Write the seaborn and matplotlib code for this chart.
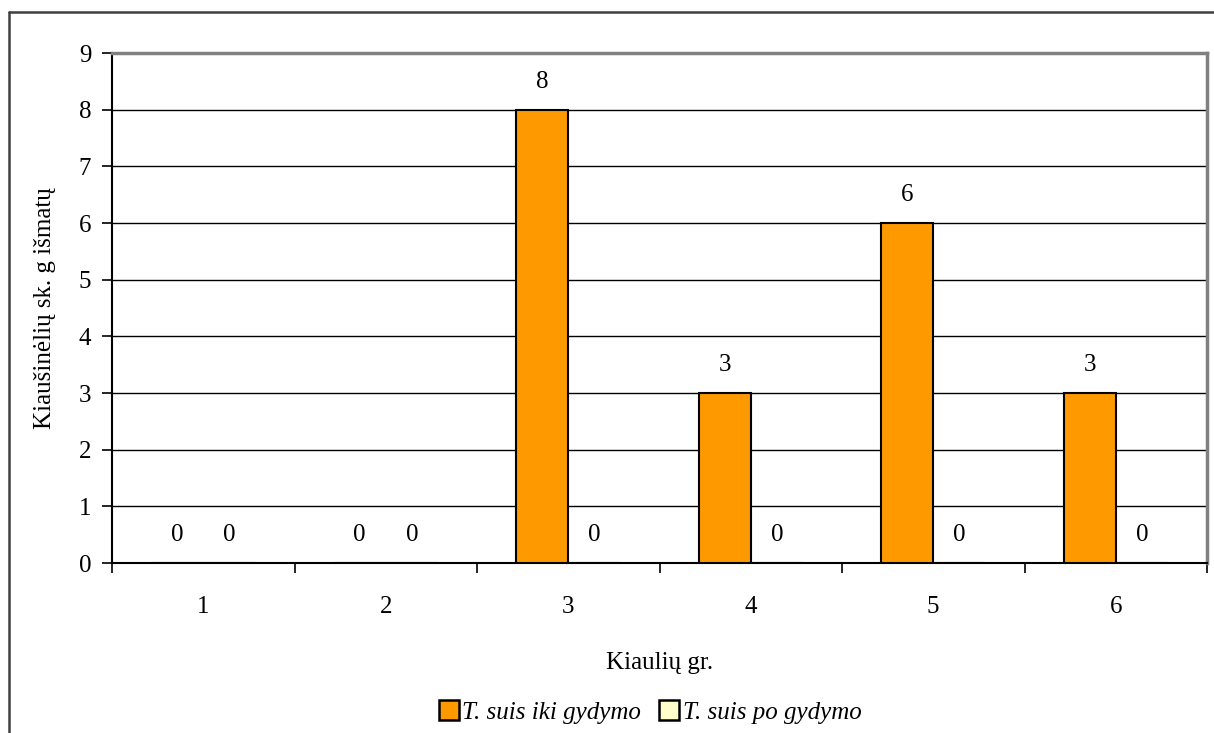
import matplotlib
matplotlib.use("Agg")
import matplotlib.pyplot as plt
import seaborn as sns
import pandas as pd
from matplotlib.lines import Line2D
from matplotlib.patches import Patch

groups = ["1", "2", "3", "4", "5", "6"]
series_names = ["T. suis iki gydymo", "T. suis po gydymo"]
before = [0, 0, 8, 3, 6, 3]
after = [0, 0, 0, 0, 0, 0]
colors = ["#FF9900", "#FFFFCC"]

sns.set_theme(style="white")
plt.rcParams["font.family"] = ["Liberation Serif", "DejaVu Serif"]
plt.rcParams["text.color"] = "black"
plt.rcParams["axes.labelcolor"] = "black"
plt.rcParams["xtick.color"] = "black"
plt.rcParams["ytick.color"] = "black"

FS = 18

df = pd.DataFrame({
    "group": groups * 2,
    "series": [series_names[0]] * len(groups) + [series_names[1]] * len(groups),
    "value": before + after,
})

fig = plt.figure(figsize=(12.14, 7.33), dpi=100)
ax = fig.add_axes([112 / 1214, 1 - 563 / 733, (1207 - 112) / 1214, (563 - 53) / 733])

sns.barplot(data=df, x="group", y="value", hue="series", order=groups,
            hue_order=series_names, palette=colors, width=0.57, saturation=1,
            edgecolor="black", linewidth=1.5, ax=ax, legend=False, zorder=3)

ax.set_ylim(0, 9)
ax.set_xlim(-0.5, len(groups) - 0.5)
ax.set_yticks(range(0, 10))
ax.yaxis.grid(True, color="black", linewidth=1.0, zorder=0)
ax.set_axisbelow(True)

# x ticks at category boundaries, labels at centers
ax.set_xticks([i - 0.5 for i in range(len(groups) + 1)])
ax.set_xticklabels([])
ax.set_xticks(range(len(groups)), minor=True)
ax.set_xticklabels(groups, minor=True)
ax.tick_params(axis="x", which="major", direction="out", length=7, width=1.2, color="black", bottom=True)
ax.tick_params(axis="x", which="minor", length=0, pad=24, labelsize=FS)
ax.tick_params(axis="y", direction="out", length=7, width=1.2, color="black", left=True, labelsize=FS, pad=8)

for s in ["left", "bottom"]:
    ax.spines[s].set_color("black")
    ax.spines[s].set_linewidth(1.5)
for s in ["top", "right"]:
    ax.spines[s].set_color("#808080")
    ax.spines[s].set_linewidth(2.5)

ax.set_xlabel("Kiaulių gr.", fontsize=FS, labelpad=24)
ax.set_ylabel("Kiaušinėlių sk. g išmatų", fontsize=FS, labelpad=16)

# value labels
for container, vals in zip(ax.containers, [before, after]):
    for patch, v in zip(container.patches, vals):
        xc = patch.get_x() + patch.get_width() / 2
        ax.annotate(f"{v}", (xc, v), xytext=(0, 28), textcoords="offset pixels",
                    ha="center", va="center", fontsize=FS, color="black")

handles = [Patch(facecolor=c, edgecolor="black", linewidth=1.8) for c in colors]
fig.legend(handles, series_names, loc="center", bbox_to_anchor=(650 / 1214, 1 - 712 / 733),
           ncol=2, frameon=False, handlelength=0.8, handleheight=0.8, handletextpad=0.15,
           columnspacing=0.7, prop={"style": "italic", "size": FS, "family": "Liberation Serif"})

# outer chart border
fig.add_artist(Line2D([9 / 1214, 1.0], [1 - 12 / 733, 1 - 12 / 733], color="#404040", linewidth=1.8))
fig.add_artist(Line2D([9 / 1214, 9 / 1214], [0.0, 1 - 12 / 733], color="#404040", linewidth=1.8))

fig.savefig("out.png", dpi=100, facecolor="white")
